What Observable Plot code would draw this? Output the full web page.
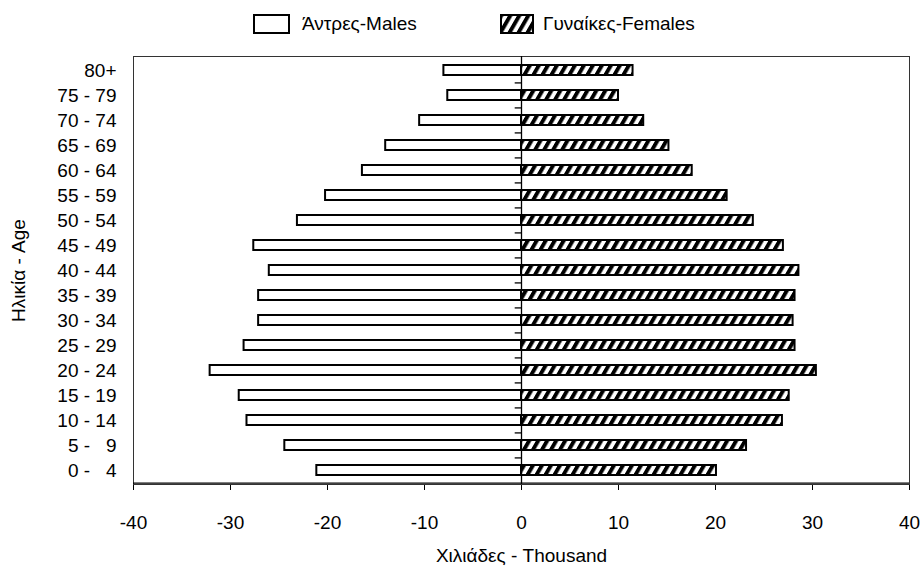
<!DOCTYPE html>
<html><head><meta charset="utf-8">
<script src="https://cdn.jsdelivr.net/npm/d3@7"></script>
<script src="https://cdn.jsdelivr.net/npm/@observablehq/plot@0.6"></script>
<style>
body{margin:0;background:#fff;font-family:"Liberation Sans",Arial,sans-serif;}
#wrap{width:920px;height:572px;position:relative;overflow:hidden;background:#fff}
#legend{height:44px;position:relative;font-size:19px;color:#000}
.item{position:absolute;top:13px;display:flex;align-items:center;}
.item svg{display:block;margin-right:12px}
</style></head><body>
<div id="wrap">
<div id="legend"></div>
<div id="chart"></div>
</div>
<script>
const ages = ["0 - 4","5 - 9","10 - 14","15 - 19","20 - 24","25 - 29","30 - 34","35 - 39","40 - 44","45 - 49","50 - 54","55 - 59","60 - 64","65 - 69","70 - 74","75 - 79","80+"];
const males = [21.1,24.4,28.3,29.1,32.1,28.6,27.1,27.1,26.0,27.6,23.1,20.2,16.4,14.0,10.5,7.6,8.0];
const females = [20.1,23.2,26.9,27.6,30.4,28.2,28.0,28.2,28.6,27.0,23.9,21.2,17.6,15.2,12.6,10.0,11.5];
const xTicks = [-40,-30,-20,-10,0,10,20,30,40];
const seriesNames = ["Άντρες-Males","Γυναίκες-Females"];

const W = 920, H = 528;
const mt = 12, mb = 88, ml = 133, mr = 11;
const step = (H - mt - mb) / ages.length;
const FONT = "'Liberation Sans', Arial, sans-serif";

const maleData = ages.map((a, i) => ({age: a, v: -males[i]}));
const femaleData = ages.map((a, i) => ({age: a, v: females[i]}));

function hatchPattern(id) {
  return `<pattern id="${id}" patternUnits="userSpaceOnUse" width="9" height="9" patternTransform="skewX(-30)"><rect width="9" height="9" fill="#fff"/><rect width="4.5" height="9" fill="#000"/></pattern>`;
}

const legend = document.getElementById("legend");
legend.innerHTML = `
<div class="item" style="left:253px"><svg width="37" height="20"><rect x="1" y="1" width="35" height="18" fill="#fff" stroke="#000" stroke-width="2"/></svg><span>${seriesNames[0]}</span></div>
<div class="item" style="left:500px"><svg width="34" height="20"><defs>${hatchPattern("hatchL")}</defs><rect x="1" y="1" width="32" height="18" fill="url(#hatchL)" stroke="#000" stroke-width="2"/></svg><span style="margin-left:-3px">${seriesNames[1]}</span></div>`;

const fmt = d => d.replace(/ (\d)$/, " \u2007$1");

const chart = Plot.plot({
  width: W, height: H,
  marginTop: mt, marginBottom: mb, marginLeft: ml, marginRight: mr,
  style: {fontFamily: FONT, fontSize: "19px", color: "#000", background: "#fff", overflow: "visible"},
  x: {domain: [-40, 40], ticks: xTicks, tickSize: 6, tickPadding: 25, tickFormat: d => String(d), label: "Χιλιάδες - Thousand", labelAnchor: "center", labelOffset: 77, labelArrow: "none"},
  y: {domain: ages.slice().reverse(), paddingInner: 0.62, paddingOuter: 0.31, tickSize: 0, tickPadding: 17, tickFormat: fmt, label: "Ηλικία - Age", labelAnchor: "center", labelOffset: 122},
  marks: [
    Plot.frame({stroke: "#333", strokeWidth: 1}),
    Plot.barX(maleData, {x: "v", y: "age", fill: "#fff", stroke: "#000", strokeWidth: 2}),
    Plot.barX(femaleData, {x: "v", y: "age", fill: "url(#hatch)", stroke: "#000", strokeWidth: 2}),
    Plot.ruleX([0], {stroke: "#000", strokeWidth: 1.3}),
    Plot.ruleY(ages.slice(0, -1), {y: d => d, x1: -0.65, x2: 0, dy: -step / 2, stroke: "#000", strokeWidth: 1.3}),
    Plot.ruleY([0], {y: () => ages[0], dy: step / 2, stroke: "#000", strokeWidth: 1.3})
  ]
});
d3.select(chart).insert("defs", ":first-child").html(hatchPattern("hatch"));
document.getElementById("chart").appendChild(chart);
</script>
</body></html>
